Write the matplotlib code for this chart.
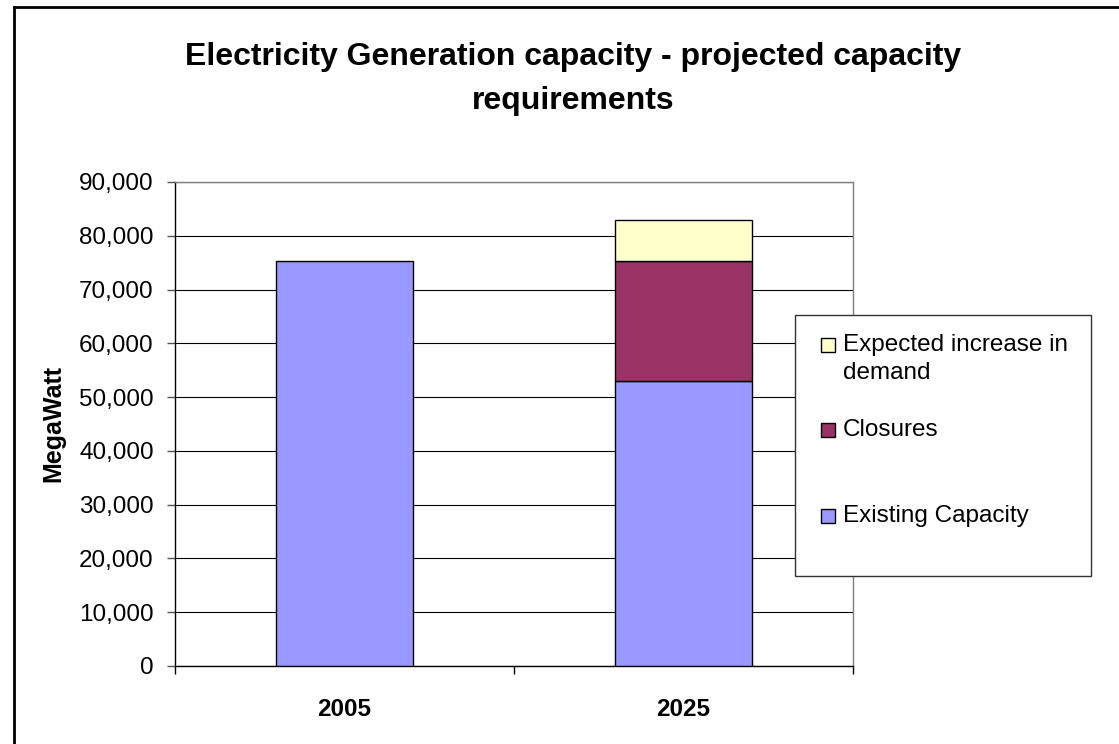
import matplotlib
matplotlib.use("Agg")
import matplotlib.pyplot as plt
from matplotlib.patches import Rectangle
from matplotlib.lines import Line2D
import numpy as np

categories = ["2005", "2025"]
existing_capacity = [75400, 53000]
closures = [0, 22300]
expected_increase = [0, 7700]
series_labels = ["Expected increase in\ndemand", "Closures", "Existing Capacity"]
series_colors = ["#FFFFCC", "#993366", "#9999FF"]
yticks = list(range(0, 90001, 10000))
title_lines = ["Electricity Generation capacity - projected capacity", "requirements"]
ylabel = "MegaWatt"

plt.rcParams['font.family'] = ['Liberation Sans', 'DejaVu Sans']

W, H = 1119, 744
fig = plt.figure(figsize=(W / 100, H / 100), dpi=100)
fig.patch.set_facecolor("white")

def fx(px):
    return px / W

def fy(py):
    return 1 - py / H

ax = fig.add_axes([fx(174.5), fy(666), fx(853) - fx(174.5), fy(182) - fy(666)])

x = np.arange(len(categories))
width = 0.404
bottom2 = np.array(existing_capacity)
bottom3 = bottom2 + np.array(closures)
ax.bar(x, existing_capacity, width, color=series_colors[2], edgecolor="black", linewidth=1.0, zorder=3)
mask = np.array(closures) > 0
ax.bar(x[mask], np.array(closures)[mask], width, bottom=bottom2[mask], color=series_colors[1],
       edgecolor="black", linewidth=1.0, zorder=3)
mask2 = np.array(expected_increase) > 0
ax.bar(x[mask2], np.array(expected_increase)[mask2], width, bottom=bottom3[mask2], color=series_colors[0],
       edgecolor="black", linewidth=1.0, zorder=3)

ax.set_xlim(-0.5, len(categories) - 0.5)
ax.set_ylim(0, 90000)
ax.set_yticks(yticks)
ax.set_yticklabels([f"{v:,}" for v in yticks], fontsize=17.5)
ax.yaxis.grid(True, color="black", linewidth=0.8, zorder=0)
ax.set_axisbelow(True)

# category boundary ticks, labels at centres
ax.set_xticks(np.arange(-0.5, len(categories), 1.0))
ax.set_xticklabels([])
ax.set_xticks(x, minor=True)
ax.set_xticklabels(categories, minor=True, fontsize=17.5, fontweight="bold")
ax.tick_params(axis="x", which="major", direction="out", length=6, width=1, color="black")
ax.tick_params(axis="x", which="minor", length=0, pad=23)
ax.tick_params(axis="y", direction="out", length=6, width=1, color="#555555", pad=9)

ax.spines["left"].set_color("black")
ax.spines["bottom"].set_color("black")
ax.spines["top"].set_color("#808080")
ax.spines["right"].set_color("#808080")
for s in ax.spines.values():
    s.set_linewidth(1.0)

ax.set_ylabel(ylabel, fontsize=18, fontweight="bold", labelpad=10)

# title
fig.text(fx(573), fy(57), title_lines[0], ha="center", va="center", fontsize=23, fontweight="bold")
fig.text(fx(573), fy(101), title_lines[1], ha="center", va="center", fontsize=23, fontweight="bold")

# legend box
leg_x0, leg_y0, leg_x1, leg_y1 = 795, 315, 1091, 576
fig.patches.append(Rectangle((fx(leg_x0), fy(leg_y1)), fx(leg_x1) - fx(leg_x0), fy(leg_y0) - fy(leg_y1),
                             transform=fig.transFigure, facecolor="white", edgecolor="#333333",
                             linewidth=1.0, zorder=5))
sq_centers = [345, 430, 516]
text_centers = [359, 430, 516]
sq = 14
for lab, col, sc, tc in zip(series_labels, series_colors, sq_centers, text_centers):
    fig.patches.append(Rectangle((fx(821), fy(sc + sq / 2)), fx(sq), sq / H,
                                 transform=fig.transFigure, facecolor=col, edgecolor="black",
                                 linewidth=1.0, zorder=6))
    fig.text(fx(843), fy(tc), lab, ha="left", va="center", fontsize=17.5, linespacing=1.38, zorder=7)

# outer border
fig.lines.append(Line2D([fx(14), fx(14)], [fy(7), 0], transform=fig.transFigure, color="black", linewidth=2))
fig.lines.append(Line2D([fx(14), 1], [fy(7), fy(7)], transform=fig.transFigure, color="black", linewidth=2))

fig.savefig("out.png", dpi=100, facecolor="white")
